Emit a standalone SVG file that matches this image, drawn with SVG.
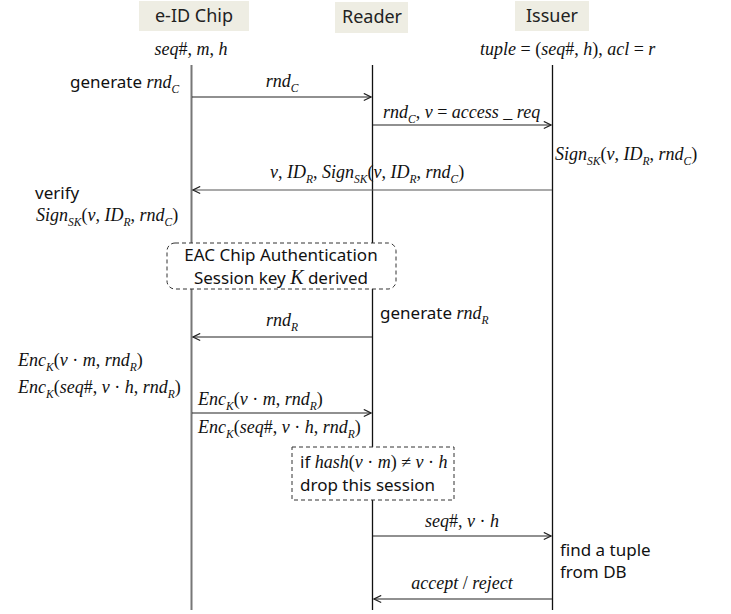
<svg xmlns="http://www.w3.org/2000/svg" width="731" height="614" viewBox="0 0 731 614">
<style>
.hdr{fill:#eeede3}
.ht{font-family:"Noto Sans","Open Sans",sans-serif;font-size:18px;fill:#222;text-anchor:middle}
.t{font-family:"Noto Sans","Open Sans",sans-serif;font-size:17px;fill:#111}
.m{font-family:"Liberation Serif","Times New Roman",serif;font-style:italic;font-size:18px;fill:#111}
.s{font-size:11.5px}
.u{font-style:normal}
.life{stroke:#111;stroke-width:1.3}
.lifeg{stroke:#777;stroke-width:2}
.msg{stroke:#222;stroke-width:1.2;fill:none;marker-end:url(#ah)}
.box{fill:#fff;stroke:#333;stroke-width:1;stroke-dasharray:4,3}
</style>
<defs>
<marker id="ah" viewBox="0 0 10 10" refX="9" refY="5" markerWidth="9" markerHeight="9" markerUnits="userSpaceOnUse" orient="auto">
<path d="M1,1 L9,5 L1,9" fill="none" stroke="#222" stroke-width="1.3"/>
</marker>
</defs>
<rect width="731" height="614" fill="#fff"/>

<g id="chip">
<rect class="hdr" x="139" y="1" width="110" height="30"/>
<text class="ht" x="194" y="22">e-ID Chip</text>
<text class="m" x="191" y="55" text-anchor="middle">seq<tspan class="u">#, </tspan>m<tspan class="u">, </tspan>h</text>
<line class="lifeg" x1="191.5" y1="65" x2="191.5" y2="610"/>
</g>
<g id="reader">
<rect class="hdr" x="335" y="2" width="73" height="31"/>
<text class="ht" x="372" y="23">Reader</text>
<line class="life" x1="372.5" y1="65" x2="372.5" y2="610"/>
</g>
<g id="issuer">
<rect class="hdr" x="515" y="1" width="74" height="30"/>
<text class="ht" x="552" y="22">Issuer</text>
<text class="m" x="480" y="55">tuple<tspan class="u"> = (</tspan>seq<tspan class="u">#, </tspan>h<tspan class="u">), </tspan>acl<tspan class="u"> = </tspan>r</text>
<line class="life" x1="552.5" y1="65" x2="552.5" y2="610"/>
</g>

<g id="notes">
<text x="70" y="88"><tspan class="t">generate </tspan><tspan class="m">rnd</tspan><tspan class="m s" dy="5">C</tspan></text>
<text class="m" x="555" y="160">Sign<tspan class="s" dy="5">SK</tspan><tspan class="u" dy="-5">(</tspan>v<tspan class="u">, </tspan>ID<tspan class="s" dy="5">R</tspan><tspan class="u" dy="-5">, </tspan>rnd<tspan class="s" dy="5">C</tspan><tspan class="u" dy="-5">)</tspan></text>
<text class="t" x="35" y="199">verify</text>
<text class="m" x="36" y="221">Sign<tspan class="s" dy="5">SK</tspan><tspan class="u" dy="-5">(</tspan>v<tspan class="u">, </tspan>ID<tspan class="s" dy="5">R</tspan><tspan class="u" dy="-5">, </tspan>rnd<tspan class="s" dy="5">C</tspan><tspan class="u" dy="-5">)</tspan></text>
<g id="eac">
<rect class="box" x="167" y="243" width="229" height="46" rx="8"/>
<text class="t" x="281" y="261" text-anchor="middle">EAC Chip Authentication</text>
<text x="281" y="284" text-anchor="middle"><tspan class="t">Session key </tspan><tspan class="m" style="font-size:20px">K</tspan><tspan class="t"> derived</tspan></text>
</g>
<text x="380" y="319"><tspan class="t">generate </tspan><tspan class="m">rnd</tspan><tspan class="m s" dy="5">R</tspan></text>
<text class="m" x="18" y="366">Enc<tspan class="s" dy="5">K</tspan><tspan class="u" dy="-5">(</tspan>v<tspan class="u"> · </tspan>m<tspan class="u">, </tspan>rnd<tspan class="s" dy="5">R</tspan><tspan class="u" dy="-5">)</tspan></text>
<text class="m" x="18" y="393">Enc<tspan class="s" dy="5">K</tspan><tspan class="u" dy="-5">(</tspan>seq<tspan class="u">#, </tspan>v<tspan class="u"> · </tspan>h<tspan class="u">, </tspan>rnd<tspan class="s" dy="5">R</tspan><tspan class="u" dy="-5">)</tspan></text>
<g id="hashcheck">
<rect class="box" x="292" y="447" width="162" height="53"/>
<text x="300" y="468"><tspan class="t">if  </tspan><tspan class="m">hash<tspan class="u">(</tspan>v<tspan class="u"> · </tspan>m<tspan class="u">) ≠ </tspan>v<tspan class="u"> · </tspan>h</tspan></text>
<text class="t" x="300" y="491">drop this session</text>
</g>
<text class="t" x="560" y="556">find a tuple</text>
<text class="t" x="560" y="578">from DB</text>
</g>

<g id="connectors">
<line class="msg" x1="192" y1="97" x2="371" y2="97"/>
<text class="m" x="282" y="87" text-anchor="middle">rnd<tspan class="s" dy="5">C</tspan></text>
<line class="msg" x1="373" y1="125" x2="551" y2="125"/>
<text class="m" x="383" y="118">rnd<tspan class="s" dy="5">C</tspan><tspan class="u" dy="-5">, </tspan>v<tspan class="u"> = </tspan>access<tspan class="u"> _ </tspan>req</text>
<line class="msg" x1="552" y1="190" x2="193" y2="190" style="stroke:#555"/>
<text class="m" x="270" y="178">v<tspan class="u">, </tspan>ID<tspan class="s" dy="5">R</tspan><tspan class="u" dy="-5">, </tspan>Sign<tspan class="s" dy="5">SK</tspan><tspan class="u" dy="-5">(</tspan>v<tspan class="u">, </tspan>ID<tspan class="s" dy="5">R</tspan><tspan class="u" dy="-5">, </tspan>rnd<tspan class="s" dy="5">C</tspan><tspan class="u" dy="-5">)</tspan></text>
<line class="msg" x1="372" y1="337" x2="193" y2="337"/>
<text class="m" x="282" y="326" text-anchor="middle">rnd<tspan class="s" dy="5">R</tspan></text>
<line class="msg" x1="192" y1="413" x2="371" y2="413"/>
<text class="m" x="198" y="405">Enc<tspan class="s" dy="5">K</tspan><tspan class="u" dy="-5">(</tspan>v<tspan class="u"> · </tspan>m<tspan class="u">, </tspan>rnd<tspan class="s" dy="5">R</tspan><tspan class="u" dy="-5">)</tspan></text>
<text class="m" x="198" y="433">Enc<tspan class="s" dy="5">K</tspan><tspan class="u" dy="-5">(</tspan>seq<tspan class="u">#, </tspan>v<tspan class="u"> · </tspan>h<tspan class="u">, </tspan>rnd<tspan class="s" dy="5">R</tspan><tspan class="u" dy="-5">)</tspan></text>
<line class="msg" x1="373" y1="536" x2="551" y2="536"/>
<text class="m" x="462" y="527" text-anchor="middle">seq<tspan class="u">#, </tspan>v<tspan class="u"> · </tspan>h</text>
<line class="msg" x1="552" y1="599" x2="374" y2="599"/>
<text class="m" x="462" y="589" text-anchor="middle">accept<tspan class="u"> / </tspan>reject</text>
</g>
</svg>
